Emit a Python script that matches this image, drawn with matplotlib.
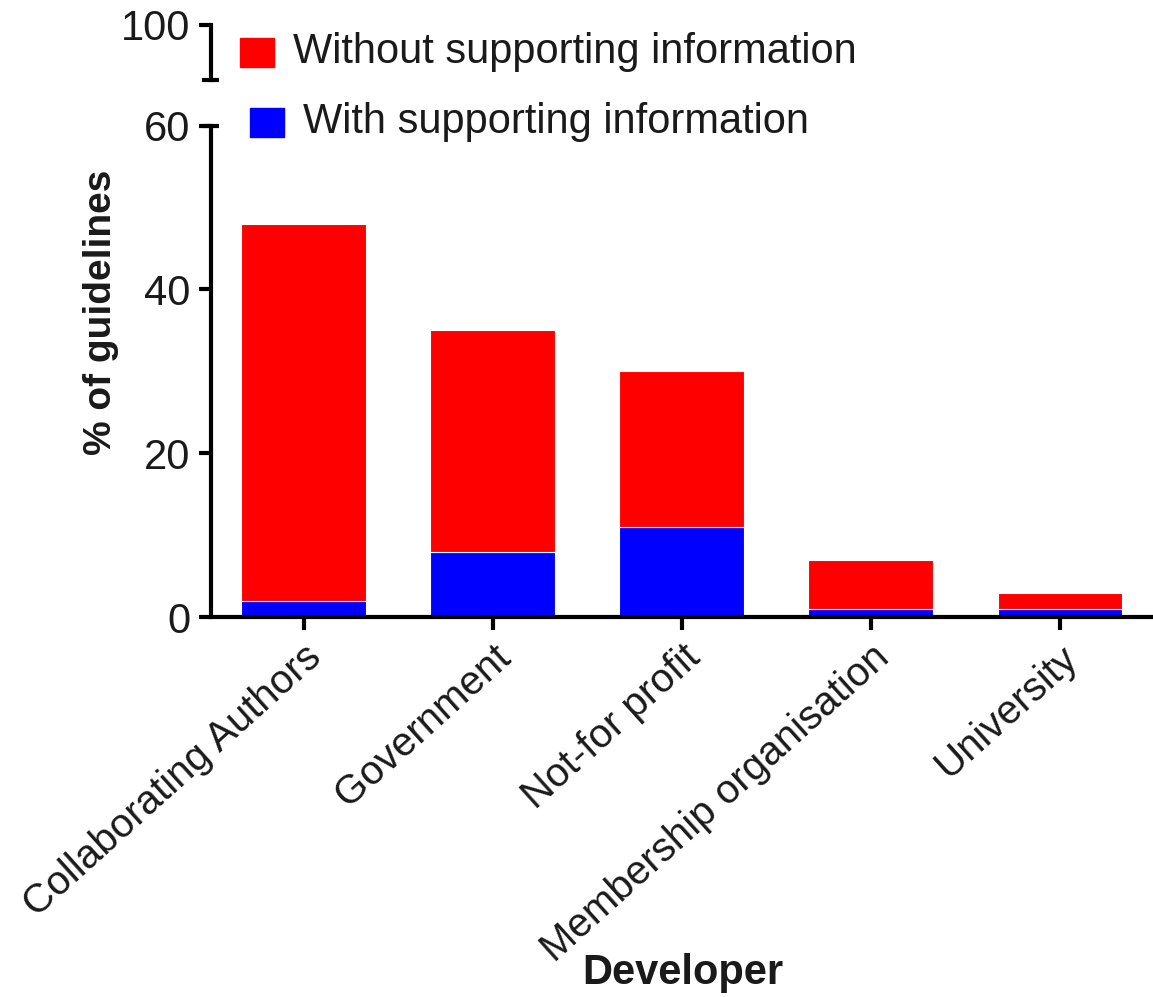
import matplotlib
matplotlib.use("Agg")
import matplotlib.pyplot as plt
from matplotlib.patches import Rectangle

plt.rcParams['font.family'] = ['Liberation Sans', 'DejaVu Sans']

# data
developers = ["Collaborating Authors", "Government", "Not-for profit",
              "Membership organisation", "University"]
with_info = [2, 8, 11, 1, 1]
without_info = [46, 27, 19, 6, 2]
y_ticks = [0, 20, 40, 60]

red = "#ff0000"
blue = "#0000ff"
txt = "#1a1a1a"

fig = plt.figure(figsize=(11.53, 9.97), dpi=100)
ax = fig.add_axes([0.183, 0.381, 0.815, 0.493])
ax_top = fig.add_axes([0.183, 0.920, 0.815, 0.055], sharex=ax)

x = range(len(developers))
ax.bar(x, with_info, width=0.66, color=blue, edgecolor="white", linewidth=0.8)
ax.bar(x, without_info, bottom=with_info, width=0.66, color=red,
       edgecolor="white", linewidth=0.8)

ax.set_xlim(-0.49, 4.48)
ax.set_ylim(0, 60)
ax.set_yticks(y_ticks)
ax.set_xticks(list(x))
ax.set_xticklabels(developers, rotation=42, ha="right", rotation_mode="anchor")
for s in ["top", "right"]:
    ax.spines[s].set_visible(False)
ax.spines["left"].set_linewidth(3)
ax.spines["bottom"].set_linewidth(3)
ax.tick_params(width=3, length=9, labelsize=30, pad=6, labelcolor=txt)
ax.tick_params(axis="x", labelsize=29)
ax.set_ylabel("% of guidelines", fontsize=28, fontweight="bold", color=txt)
ax.yaxis.set_label_coords(-0.098, 0.62)

# upper segment of broken axis
ax_top.set_ylim(90, 100)
ax_top.set_yticks([100])
for s in ["top", "right", "bottom"]:
    ax_top.spines[s].set_visible(False)
ax_top.spines["left"].set_linewidth(3)
ax_top.tick_params(axis="y", width=3, length=9, labelsize=30, pad=6,
                   labelcolor=txt)
ax_top.tick_params(axis="x", bottom=False, labelbottom=False)
ax_top.patch.set_visible(False)

# break caps
ax_top.plot([-0.01, 0.008], [0, 0], transform=ax_top.transAxes, color="black",
            lw=3, clip_on=False, solid_capstyle="butt")
ax.plot([-0.01, 0.008], [1, 1], transform=ax.transAxes, color="black",
        lw=3, clip_on=False, solid_capstyle="butt")

# legend drawn by hand
fig.patches.append(Rectangle((240 / 1153, 1 - 67 / 997), 34 / 1153, 29 / 997,
                             transform=fig.transFigure, color=red))
fig.patches.append(Rectangle((250 / 1153, 1 - 137 / 997), 34 / 1153, 29 / 997,
                             transform=fig.transFigure, color=blue))
fig.text(293 / 1153, 1 - 52 / 997, "Without supporting information",
         fontsize=30, va="center", ha="left", color=txt)
fig.text(303 / 1153, 1 - 122 / 997, "With supporting information",
         fontsize=30, va="center", ha="left", color=txt)

fig.text(683 / 1153, 1 - 973 / 997, "Developer", fontsize=30,
         fontweight="bold", ha="center", va="center", color=txt)

fig.savefig("out.png", dpi=100)
